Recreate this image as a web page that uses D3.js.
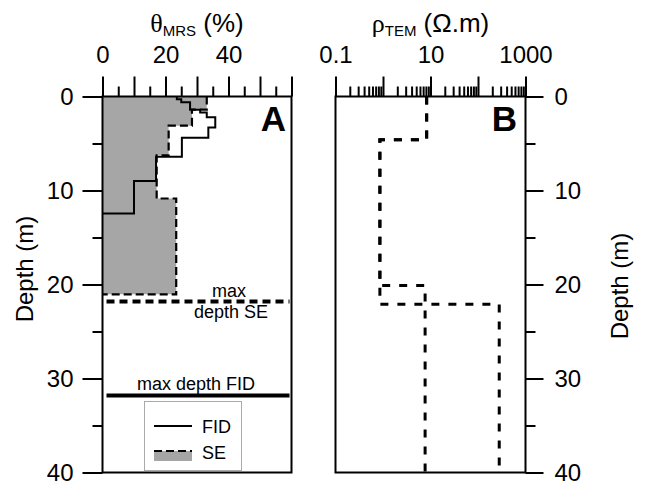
<!DOCTYPE html>
<html><head><meta charset="utf-8">
<script src="https://cdn.jsdelivr.net/npm/d3@7"></script>
<style>
html,body{margin:0;padding:0;background:#fff;}
text{font-family:"Liberation Sans",Arial,sans-serif;fill:#000;}
</style></head>
<body><svg id="c" width="646" height="486"></svg>
<script>
// ---- data ----
const depthMajorTicks = [0, 10, 20, 30, 40];
const depthMinorTicks = [5, 15, 25, 35];
const thetaMajorTicks = [0, 10, 20, 30, 40, 50, 60];
const thetaMinorTicks = [5, 15, 25, 35, 45, 55];
const thetaTickLabels = [0, 20, 40];
const rhoTickLabels = [0.1, 10, 1000];

// FID water content profile (layer tops, base, value %)
const fidTops = [0, 0.3, 0.6, 1.4, 1.7, 2.2, 3.3, 4.4, 6.4, 9.0];
const fidBase = 12.45;
const fidTheta = [23.6, 25, 27.8, 31, 33.1, 35.8, 33.6, 25.2, 17, 10];

// SE water content profile
const seTops = [0, 1.4, 3.1, 6.25, 10.85];
const seBase = 21.05;
const seTheta = [33.1, 28.4, 21, 17.2, 23.4];

const maxDepthSE = 21.8;
const maxDepthFID = 31.8;

// TEM resistivity models
const tem1Tops = [0, 4.6, 22.1];
const tem1Rho = [8.3, 0.86, 280];
const tem2Tops = [0, 4.6, 20.1];
const tem2Rho = [8.3, 0.86, 7.7];
const temBase = 40;

// ---- layout ----
const svg = d3.select("#c");
const yTop = 96.5, yBot = 472.5;
const A = {l: 102.5, r: 291.5};
const B = {l: 335.5, r: 525.5};

const y = d3.scaleLinear().domain([0, 40]).range([yTop, yBot]);
const xA = d3.scaleLinear().domain([0, 60]).range([A.l, A.r]);
const xB = d3.scaleLog().domain([0.1, 1000]).range([B.l, B.r]);

function stepPoints(tops, vals, base) {
  const pts = [];
  tops.forEach((t, i) => {
    const b = i < tops.length - 1 ? tops[i + 1] : base;
    pts.push([vals[i], t]);
    pts.push([vals[i], b]);
  });
  return pts;
}

// SE fill
const sePts = stepPoints(seTops, seTheta, seBase);
svg.append("path")
  .attr("d", d3.area().y(d => y(d[1])).x0(xA(0)).x1(d => xA(d[0]))(sePts))
  .attr("fill", "#a6a6a6");
// SE dashed outline
svg.append("path")
  .attr("d", d3.line().x(d => xA(d[0])).y(d => y(d[1]))(sePts.concat([[0, seBase]])))
  .attr("fill", "none").attr("stroke", "#000").attr("stroke-width", 2.2)
  .attr("stroke-dasharray", "8,4");
// FID line
const fidPts = stepPoints(fidTops, fidTheta, fidBase).concat([[0, fidBase]]);
svg.append("path")
  .attr("d", d3.line().x(d => xA(d[0])).y(d => y(d[1]))(fidPts))
  .attr("fill", "none").attr("stroke", "#000").attr("stroke-width", 2);

// max depth lines
svg.append("line").attr("x1", A.l + 4).attr("x2", A.r - 2)
  .attr("y1", y(maxDepthSE)).attr("y2", y(maxDepthSE))
  .attr("stroke", "#000").attr("stroke-width", 4).attr("stroke-dasharray", "8,5");
svg.append("line").attr("x1", A.l + 4).attr("x2", A.r - 2)
  .attr("y1", y(maxDepthFID)).attr("y2", y(maxDepthFID))
  .attr("stroke", "#000").attr("stroke-width", 4);
svg.append("text").attr("x", 229).attr("y", y(maxDepthSE) - 4).attr("text-anchor", "middle")
  .attr("font-size", 18).text("max");
svg.append("text").attr("x", 231).attr("y", y(maxDepthSE) + 17).attr("text-anchor", "middle")
  .attr("font-size", 18).text("depth SE");
svg.append("text").attr("x", 196).attr("y", y(maxDepthFID) - 5).attr("text-anchor", "middle")
  .attr("font-size", 18).text("max depth FID");

// legend
const lg = svg.append("g");
lg.append("rect").attr("x", 144.5).attr("y", 401.5).attr("width", 97).attr("height", 69)
  .attr("fill", "#fff").attr("stroke", "#aaa").attr("stroke-width", 1);
lg.append("line").attr("x1", 154).attr("x2", 192).attr("y1", 426).attr("y2", 426)
  .attr("stroke", "#000").attr("stroke-width", 2);
lg.append("text").attr("x", 202).attr("y", 433).attr("font-size", 18).text("FID");
lg.append("rect").attr("x", 154).attr("y", 451).attr("width", 38).attr("height", 10).attr("fill", "#a6a6a6");
lg.append("line").attr("x1", 154).attr("x2", 192).attr("y1", 451).attr("y2", 451)
  .attr("stroke", "#000").attr("stroke-width", 2.2).attr("stroke-dasharray", "8,4");
lg.append("text").attr("x", 202).attr("y", 459).attr("font-size", 18).text("SE");

// TEM lines
[[tem1Tops, tem1Rho], [tem2Tops, tem2Rho]].forEach(([t, r]) => {
  svg.append("path")
    .attr("d", d3.line().x(d => xB(d[0])).y(d => y(d[1]))(stepPoints(t, r, temBase)))
    .attr("fill", "none").attr("stroke", "#000").attr("stroke-width", 3)
    .attr("stroke-dasharray", "8,9");
});

// frames
[A, B].forEach(p => {
  svg.append("rect").attr("x", p.l).attr("y", yTop).attr("width", p.r - p.l).attr("height", yBot - yTop)
    .attr("fill", "none").attr("stroke", "#000").attr("stroke-width", 2);
});

function styleAxis(g) {
  g.select(".domain").remove();
  g.selectAll(".tick line").attr("stroke", "#000").attr("stroke-width", 2);
  g.selectAll("text").attr("font-size", 24).attr("font-family", "Liberation Sans, Arial, sans-serif");
}

// top axis A
svg.append("g").attr("transform", `translate(0,${yTop})`)
  .call(d3.axisTop(xA).tickValues(thetaMajorTicks).tickSize(20).tickFormat(""))
  .call(styleAxis);
svg.append("g").attr("transform", `translate(0,${yTop})`)
  .call(d3.axisTop(xA).tickValues(thetaMinorTicks).tickSize(10).tickFormat(""))
  .call(styleAxis);
svg.append("g").attr("transform", `translate(0,${yTop})`)
  .call(d3.axisTop(xA).tickValues(thetaTickLabels).tickSize(0).tickPadding(34).tickFormat(d3.format("d")))
  .call(styleAxis);

// top axis B (log)
const rhoMajor = [0.1, 1, 10, 100, 1000];
const rhoMinor = [];
[0.1, 1, 10, 100].forEach(dec => { for (let k = 2; k <= 9; k++) rhoMinor.push(dec * k); });
svg.append("g").attr("transform", `translate(0,${yTop})`)
  .call(d3.axisTop(xB).tickValues(rhoMajor).tickSize(20).tickFormat(""))
  .call(styleAxis);
svg.append("g").attr("transform", `translate(0,${yTop})`)
  .call(d3.axisTop(xB).tickValues(rhoMinor).tickSize(10).tickFormat(""))
  .call(styleAxis);
svg.append("g").attr("transform", `translate(0,${yTop})`)
  .call(d3.axisTop(xB).tickValues(rhoTickLabels).tickSize(0).tickPadding(34).tickFormat(d => String(d)))
  .call(styleAxis);

// left depth axis
svg.append("g").attr("transform", `translate(${A.l},0)`)
  .call(d3.axisLeft(y).tickValues(depthMajorTicks).tickSize(20).tickPadding(9).tickFormat(d3.format("d")))
  .call(styleAxis);
svg.append("g").attr("transform", `translate(${A.l},0)`)
  .call(d3.axisLeft(y).tickValues(depthMinorTicks).tickSize(10).tickFormat(""))
  .call(styleAxis);
// right depth axis
svg.append("g").attr("transform", `translate(${B.r},0)`)
  .call(d3.axisRight(y).tickValues(depthMajorTicks).tickSize(18).tickPadding(11).tickFormat(d3.format("d")))
  .call(styleAxis);
svg.append("g").attr("transform", `translate(${B.r},0)`)
  .call(d3.axisRight(y).tickValues(depthMinorTicks).tickSize(10).tickFormat(""))
  .call(styleAxis);

// axis titles
const tA = svg.append("text").attr("x", (A.l + A.r) / 2).attr("y", 32).attr("text-anchor", "middle").attr("font-size", 26);
tA.append("tspan").attr("font-family", "Liberation Serif, serif").text("θ");
tA.append("tspan").attr("font-size", 15).attr("dy", 4).text("MRS");
tA.append("tspan").attr("dy", -4).text(" (%)");
const tB = svg.append("text").attr("x", (B.l + B.r) / 2).attr("y", 32).attr("text-anchor", "middle").attr("font-size", 26);
tB.append("tspan").attr("font-family", "Liberation Serif, serif").text("ρ");
tB.append("tspan").attr("font-size", 15).attr("dy", 4).text("TEM");
tB.append("tspan").attr("dy", -4).text(" (Ω.m)");

svg.append("text").attr("transform", "translate(33,269) rotate(-90)").attr("text-anchor", "middle")
  .attr("font-size", 24).text("Depth (m)");
svg.append("text").attr("transform", "translate(628,286) rotate(-90)").attr("text-anchor", "middle")
  .attr("font-size", 24).text("Depth (m)");

// panel letters
svg.append("text").attr("x", 286).attr("y", 131).attr("text-anchor", "end")
  .attr("font-size", 35).attr("font-weight", "bold").text("A");
svg.append("text").attr("x", 517).attr("y", 131).attr("text-anchor", "end")
  .attr("font-size", 35).attr("font-weight", "bold").text("B");
</script></body></html>
